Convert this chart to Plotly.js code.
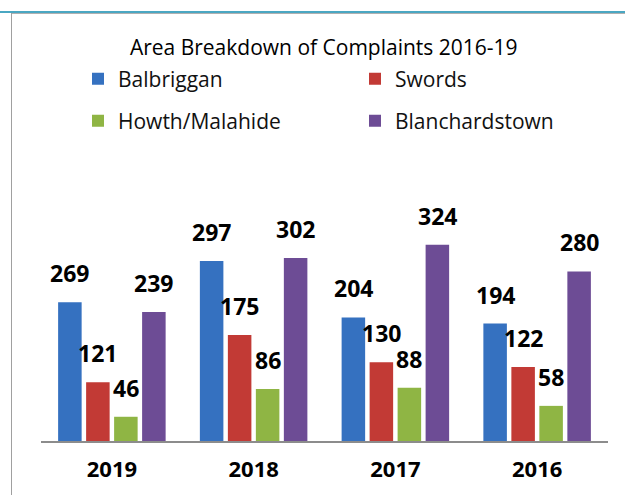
<!DOCTYPE html>
<html>
<head>
<meta charset="utf-8">
<script src="https://cdn.plot.ly/plotly-3.0.1.min.js"></script>
<style>
  html, body { margin: 0; padding: 0; background: #fff; }
  #wrap { position: relative; width: 625px; height: 495px; overflow: hidden; }
  #chart { position: absolute; left: 0; top: 0; width: 625px; height: 495px; }
  .topline { position: absolute; left: 0; top: 11px; width: 625px; height: 2px; background: #4aa7c2; }
  .topgray { position: absolute; left: 11px; top: 13px; width: 614px; height: 1px; background: #b0b0b0; }
  .leftline { position: absolute; left: 11px; top: 13px; width: 1px; height: 482px; background: #a0a0a0; }
</style>
</head>
<body>
<div id="wrap">
  <div id="chart"></div>
  <div class="topline"></div>
  <div class="topgray"></div>
  <div class="leftline"></div>
</div>
<script>
// Categories (years, as shown left to right)
const years = ['2019', '2018', '2017', '2016'];

// Series names
const seriesNames = ['Balbriggan', 'Swords', 'Howth/Malahide', 'Blanchardstown'];

// Bar heights as drawn in the picture
const balbriggan     = [229, 297, 204, 194];
const swords         = [97, 175, 130, 122];
const howthMalahide  = [40, 86, 88, 58];
const blanchardstown = [213, 302, 324, 280];

// Data labels as printed above the bars
const balbrigganLabels     = ['269', '297', '204', '194'];
const swordsLabels         = ['121', '175', '130', '122'];
const howthMalahideLabels  = ['46', '86', '88', '58'];
const blanchardstownLabels = ['239', '302', '324', '280'];

const colors = ['#3571c0', '#c23a35', '#8fb544', '#6d4c95'];

const values = [balbriggan, swords, howthMalahide, blanchardstown];
const labels = [balbrigganLabels, swordsLabels, howthMalahideLabels, blanchardstownLabels];

const W = 625, H = 495;
const margin = { l: 41, r: 17, t: 100, b: 54, autoexpand: false };
const bargap = 0.21, bargroupgap = 0.16;
const plotW = W - margin.l - margin.r;
const catW = plotW / years.length;
const slot = catW * (1 - bargap) / values.length;

const traces = values.map((v, i) => ({
  type: 'bar',
  name: seriesNames[i],
  x: years,
  y: v,
  marker: { color: colors[i], line: { width: 0 } },
  legend: i < 2 ? 'legend' : 'legend2',
  hoverinfo: 'skip'
}));

const annotations = [];
values.forEach((v, i) => {
  const off = (i - (values.length - 1) / 2) * slot;
  v.forEach((val, j) => {
    annotations.push({
      x: j, y: val, xref: 'x', yref: 'y',
      text: labels[i][j], showarrow: false,
      xanchor: 'center', yanchor: 'bottom',
      xshift: off, yshift: 11,
      font: { family: 'Open Sans, sans-serif', size: 23, color: '#000', weight: 700 }
    });
  });
});

const legendCommon = {
  orientation: 'h',
  xref: 'container', yref: 'container',
  xanchor: 'left', yanchor: 'middle',
  entrywidth: 232, entrywidthmode: 'pixels',
  itemwidth: 30,
  font: { family: 'Open Sans, sans-serif', size: 21, color: '#111' },
  bgcolor: 'rgba(0,0,0,0)',
  traceorder: 'normal'
};

const layout = {
  width: W, height: H,
  margin: margin,
  paper_bgcolor: 'rgba(0,0,0,0)',
  plot_bgcolor: 'rgba(0,0,0,0)',
  barmode: 'group',
  bargap: bargap,
  bargroupgap: bargroupgap,
  showlegend: true,
  title: {
    text: 'Area Breakdown of Complaints 2016-19',
    x: 0.518, xref: 'container', xanchor: 'center',
    y: 1 - 48 / H, yref: 'container', yanchor: 'middle',
    font: { family: 'Open Sans, sans-serif', size: 21, color: '#000' }
  },
  legend: Object.assign({}, legendCommon, { x: 78 / W, y: 1 - 79 / H }),
  legend2: Object.assign({}, legendCommon, { x: 78 / W, y: 1 - 121 / H }),
  xaxis: {
    type: 'category',
    range: [-0.5, years.length - 0.5],
    autorange: false,
    showline: true, linecolor: '#8c8c8c', linewidth: 2,
    showgrid: false, zeroline: false,
    ticks: '', ticklabelstandoff: 8,
    tickfont: { family: 'Open Sans, sans-serif', size: 22, color: '#000', weight: 700 }
  },
  yaxis: {
    range: [0, 563], autorange: false,
    visible: false, showgrid: false, zeroline: false, fixedrange: true
  },
  annotations: annotations
};

Plotly.newPlot('chart', traces, layout, { staticPlot: true, displayModeBar: false });
</script>
</body>
</html>
